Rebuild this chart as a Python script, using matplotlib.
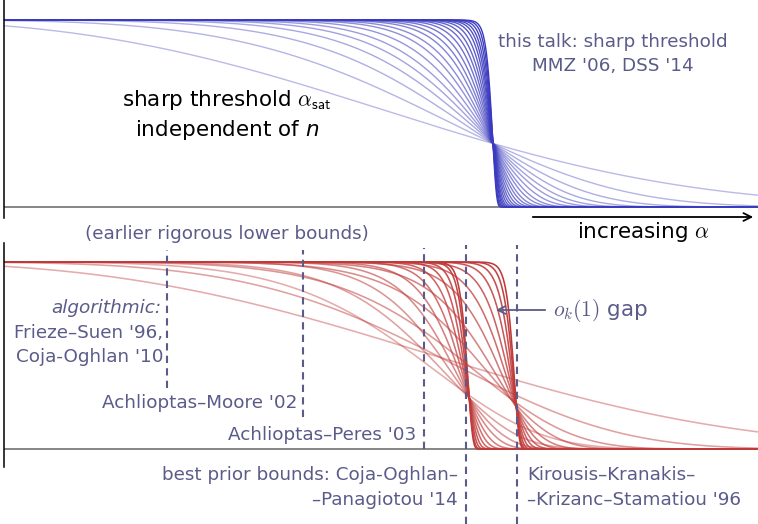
import numpy as np
import matplotlib
matplotlib.use("Agg")
import matplotlib.pyplot as plt

# ---------------- data ----------------
# x axis: alpha in arbitrary units (0 = left axis, 1 = right edge)
alpha_origin = -0.2706          # origin of the Weibull-like curves
# top panel: sharp threshold curves (steepness k); threshold drifts slightly
top_threshold_limit = 0.6485
top_threshold_drift = 0.070     # threshold = limit - drift / k
top_k = [2.9, 4.8, 6.7, 8.6, 10.5, 12.5, 15, 18, 21, 25, 29, 34, 40, 47,
         55, 65, 77, 90, 105, 125, 150, 180]
top_a = 1.0
# bottom panel: two families (lower / upper threshold)
red_L_threshold = 0.6170
red_L_k = [7, 10, 14, 19, 26, 35, 47, 63, 85, 115, 140]
red_L_a = [1.25, 1.3, 1.3, 1.3, 1.3, 1.3, 1.3, 1.3, 1.3, 1.3, 1.3]
red_R_threshold = 0.6795
red_R_k = [3, 5, 8, 12, 17, 24, 33, 45, 62, 85, 115, 150]
red_R_a = [1.0, 1.25, 1.4, 1.45, 1.5, 1.5, 1.5, 1.5, 1.5, 1.5, 1.5, 1.5]
# bounds (dashed lines): alpha position, y-range (fraction of panel height)
bound_x = [0.2162, 0.3966, 0.5570, 0.6127, 0.6804]
bound_ytop = [1.064, 1.064, 1.075, 1.091, 1.091]
bound_ybot = [0.326, 0.171, 0.0, -0.401, -0.401]

# ---------------- figure ----------------
W, H = 758, 524
fig = plt.figure(figsize=(W / 100, H / 100), dpi=100)
TXT = "#5b5b8a"
BLUE = "#3b3bbf"
RED = "#c03a3a"
FONT = "DejaVu Sans"
plt.rcParams["font.family"] = FONT
plt.rcParams["mathtext.fontset"] = "cm"


def px_axes(x0, y0, x1, y1):
    return fig.add_axes([x0 / W, 1 - y1 / H, (x1 - x0) / W, (y1 - y0) / H])


def style(ax):
    for s in ["top", "right", "bottom"]:
        ax.spines[s].set_visible(False)
    ax.spines["left"].set_color("black")
    ax.spines["left"].set_linewidth(1.1)
    ax.set_xticks([])
    ax.set_yticks([])
    ax.patch.set_alpha(0)
    ax.set_xlim(0, 1)


def curve(x, c, k, a):
    t = np.clip((x - alpha_origin) / (c - alpha_origin), 0, None)
    return np.exp(-a * t ** k)


xs = np.linspace(0, 1, 3000)

ax_top = px_axes(4, 0, 758, 218)
style(ax_top)
ax_top.set_ylim(-11 / 187, 207 / 187)
ax_top.axhline(0, color="#666666", lw=1.1, zorder=1)
n = len(top_k)
for i, k in enumerate(top_k):
    op = 0.35 + 0.65 * i / (n - 1)
    c = top_threshold_limit - top_threshold_drift / k
    ax_top.plot(xs, curve(xs, c, k, top_a), color=BLUE,
                alpha=op, lw=1.0, zorder=2)

ax_bot = px_axes(4, 243, 758, 467)
style(ax_bot)
ax_bot.set_ylim(-18 / 187, 206 / 187)
ax_bot.axhline(0, color="#666666", lw=1.1, zorder=1)
for ks, As, c in [(red_L_k, red_L_a, red_L_threshold),
                  (red_R_k, red_R_a, red_R_threshold)]:
    m = len(ks)
    for i, (k, a) in enumerate(zip(ks, As)):
        op = 0.42 + 0.58 * i / (m - 1)
        ax_bot.plot(xs, curve(xs, c, k, a), color=RED, alpha=op, lw=1.15,
                    zorder=2)

for bx, yt, yb in zip(bound_x, bound_ytop, bound_ybot):
    ax_bot.plot([bx, bx], [yb, yt], color=TXT, lw=1.5, ls=(0, (3.5, 2.5)),
                clip_on=False, zorder=3)


def ftext(x, y, s, **kw):
    fig.text(x / W, 1 - y / H, s, **kw)


BIG = 15.5
SM = 13.2
ftext(227, 100, r"sharp threshold $\alpha_{\mathsf{sat}}$", ha="center",
      va="center", fontsize=BIG, color="black")
ftext(227, 130, r"independent of $n$", ha="center", va="center",
      fontsize=BIG, color="black", math_fontfamily="dejavusans")
ftext(613, 42, "this talk: sharp threshold", ha="center", va="center",
      fontsize=SM, color=TXT)
ftext(613, 66, "MMZ '06, DSS '14", ha="center", va="center",
      fontsize=SM, color=TXT)
ftext(643, 232, r"increasing $\alpha$", ha="center", va="center",
      fontsize=BIG, color="black")
ftext(227, 234, "(earlier rigorous lower bounds)", ha="center", va="center",
      fontsize=SM, color=TXT)
ftext(161, 308, "algorithmic:", ha="right", va="center", fontsize=SM,
      color=TXT, style="italic")
ftext(163, 333, "Frieze\u2013Suen '96,", ha="right", va="center",
      fontsize=SM, color=TXT)
ftext(163, 357, "Coja-Oghlan '10", ha="right", va="center",
      fontsize=SM, color=TXT)
ftext(297, 403, "Achlioptas\u2013Moore '02", ha="right", va="center",
      fontsize=SM, color=TXT)
ftext(416, 435, "Achlioptas\u2013Peres '03", ha="right", va="center",
      fontsize=SM, color=TXT)
ftext(458, 475, "best prior bounds: Coja-Oghlan\u2013", ha="right",
      va="center", fontsize=SM, color=TXT)
ftext(458, 500, "\u2013Panagiotou '14", ha="right", va="center",
      fontsize=SM, color=TXT)
ftext(527, 475, "Kirousis\u2013Kranakis\u2013", ha="left", va="center",
      fontsize=SM, color=TXT)
ftext(527, 500, "\u2013Krizanc\u2013Stamatiou '96", ha="left", va="center",
      fontsize=SM, color=TXT)
ftext(553, 310, r"$o_k(1)$ gap", ha="left", va="center", fontsize=BIG,
      color=TXT)

# arrows (figure pixel coords)
ov = fig.add_axes([0, 0, 1, 1])
ov.set_xlim(0, W)
ov.set_ylim(H, 0)
ov.axis("off")
ov.patch.set_alpha(0)
ov.annotate("", xy=(756, 217), xytext=(530, 217),
            arrowprops=dict(arrowstyle="->", color="black", lw=1.3,
                            mutation_scale=14))
ov.annotate("", xy=(493, 310), xytext=(548, 310),
            arrowprops=dict(arrowstyle="->", color=TXT, lw=1.3,
                            mutation_scale=14))

fig.savefig("out.png", dpi=100)
